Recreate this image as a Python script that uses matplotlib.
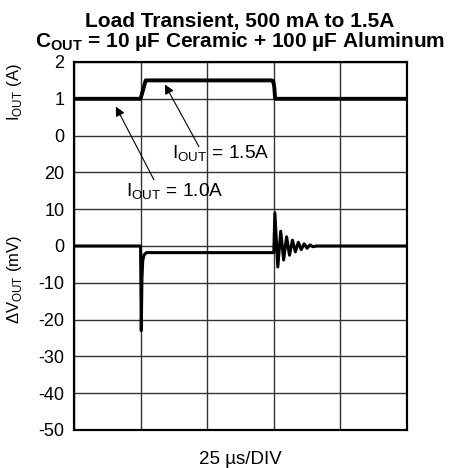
import matplotlib
matplotlib.use("Agg")
import matplotlib.pyplot as plt

plt.rcParams['font.family'] = ['Liberation Sans', 'DejaVu Sans']
plt.rcParams['mathtext.fontset'] = 'custom'
plt.rcParams['mathtext.rm'] = 'Liberation Sans'
plt.rcParams['mathtext.bf'] = 'Liberation Sans:bold'
plt.rcParams['axes.unicode_minus'] = False

# time in us (25 us/div, 5 divisions)
t_iout = [0, 25.0, 26.9, 74.2, 74.8, 75.2, 75.5, 125]
i_out = [1.0, 1.0, 1.5, 1.5, 1.48, 1.3, 1.0, 1.0]

t_vout = [0, 24.9, 25.0, 25.25, 25.5, 25.8, 26.3, 27.2, 75.0,
          75.4, 76.5, 77.6, 78.7, 79.8, 80.9, 82.0, 83.1, 84.2,
          85.3, 86.4, 87.5, 88.6, 89.7, 91.0, 125]
dv_out = [0, 0, -1, -23, -9, -4, -2.4, -1.8, -1.8,
          9.0, -5.7, 4.0, -3.8, 2.5, -2.5, 1.6, -1.6, 1.0,
          -1.0, 0.6, -0.6, 0.3, -0.2, 0, 0]

v_ticks = [-50, -40, -30, -20, -10, 0, 10, 20]
i_ticks = [0, 1, 2]
x_div = [0, 25, 50, 75, 100, 125]

fig = plt.figure(figsize=(4.54, 4.68), dpi=100)
ax = fig.add_axes([74/454, 1 - 430/468, 333/454, 368/468])

ax.plot(t_vout, dv_out, color='black', lw=2.2, solid_joinstyle='round', zorder=3)
ax.set_xlim(0, 125)
ax.set_ylim(-50, 50)
ax.set_yticks(v_ticks)
ax.set_xticks(x_div)
ax.set_xticklabels([])
ax.tick_params(length=0, labelsize=13, pad=7)
ax.grid(True, color='#333333', lw=1.0)
ax.set_axisbelow(True)
for s in ax.spines.values():
    s.set_linewidth(1.5)

ax2 = ax.twinx()
ax2.plot(t_iout, i_out, color='black', lw=2.8, solid_joinstyle='round')
ax2.set_ylim(-8, 2)
ax2.set_yticks(i_ticks)
ax2.yaxis.tick_left()
ax2.tick_params(length=0, labelsize=13, pad=7)
ax2.grid(True, axis='y', color='#333333', lw=1.0)
for s in ax2.spines.values():
    s.set_linewidth(1.5)

# annotations
arrow = dict(arrowstyle='-|>', color='black', lw=0.8, mutation_scale=14,
             shrinkA=0, shrinkB=0)
ax2.annotate('', xy=(34.1, 1.39), xytext=(46.9, -0.30), arrowprops=arrow)
ax2.text(55.1, -0.625, r'I$_\mathrm{OUT}$ = 1.5A', fontsize=13.8,
         ha='center', va='baseline')
ax2.annotate('', xy=(15.7, 0.79), xytext=(30.0, -1.2), arrowprops=arrow)
ax2.text(37.7, -1.66, r'I$_\mathrm{OUT}$ = 1.0A', fontsize=13.8,
         ha='center', va='baseline')

fig.text(15/454, 1 - 92/468, r'I$_\mathrm{OUT}$ (A)', rotation=90,
         ha='center', va='center', fontsize=12)
fig.text(15/454, 1 - 279/468, r'ΔV$_\mathrm{OUT}$ (mV)', rotation=90,
         ha='center', va='center', fontsize=12)
fig.text(240/454, 1 - 464/468, '25 µs/DIV', ha='center', va='baseline',
         fontsize=13.5)

title = ('Load Transient, 500 mA to 1.5A\n'
         r'C$_\mathbf{OUT}$ = 10 µF Ceramic + 100 µF Aluminum')
fig.text(240/454, 1 - 47/468, title, ha='center', va='baseline',
         multialignment='center', linespacing=0.95,
         fontsize=15, fontweight='bold')

fig.savefig('out.png', dpi=100)
